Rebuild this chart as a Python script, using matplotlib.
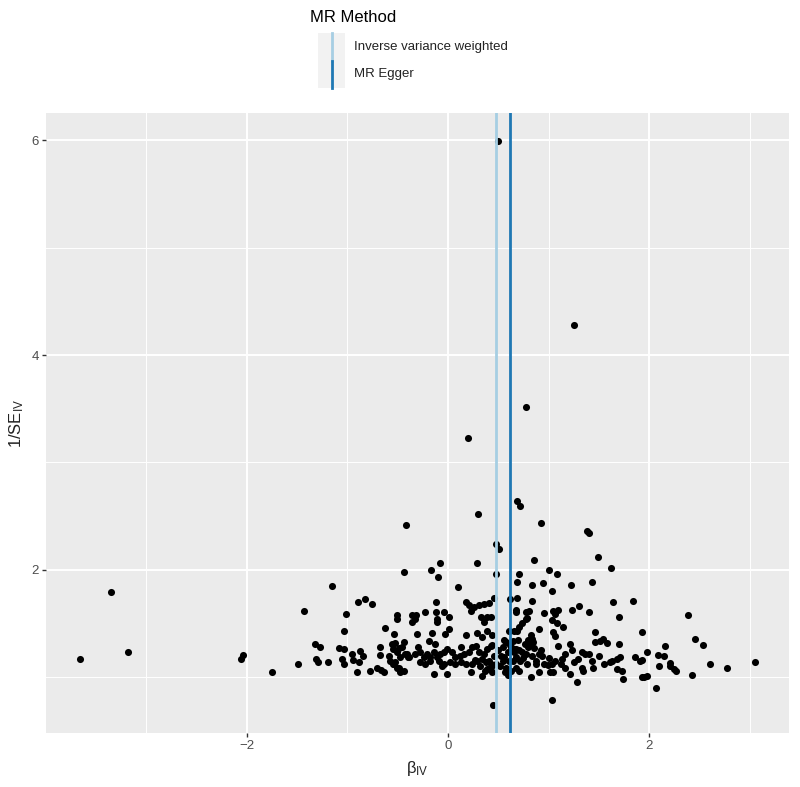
import numpy as np
import matplotlib
matplotlib.use('Agg')
import matplotlib.pyplot as plt
from matplotlib.lines import Line2D
from matplotlib.patches import Rectangle

plt.rcParams['font.family'] = ['Liberation Sans', 'DejaVu Sans']
plt.rcParams['mathtext.fontset'] = 'custom'
plt.rcParams['mathtext.rm'] = 'Liberation Sans'
plt.rcParams['mathtext.it'] = 'Liberation Sans'

# estimates of the IVW and Egger slopes
ivw_beta = 0.48
egger_beta = 0.62
methods = ['Inverse variance weighted', 'MR Egger']
method_colors = ['#a6cee3', '#1f78b4']

# per-SNP ratio estimates (beta_IV) and precision (1/SE_IV)
outer_beta = [0.50, 1.25, 0.78, 0.195, 0.30, -0.42, 0.93, 1.38, 1.40, 0.69, 0.72,
              0.48, 0.51, 1.49, 1.62, 0.86, 0.29, -0.075, -0.165, -0.44, -0.10,
              0.48, 0.69, 0.71, 0.10, 0.46, 0.62, 0.69, -0.12, 0.175, 0.21, 0.26,
              0.31, 0.36, 0.41, -0.23, -0.12, -0.035, 0.225, 0.68, -0.51, -0.36,
              -0.32, 0.01, 0.33, 0.39, 0.43, -0.11]
outer_inv_se = [5.99, 4.28, 3.52, 3.23, 2.52, 2.42, 2.44, 2.36, 2.34, 2.64, 2.59,
                2.24, 2.19, 2.12, 2.02, 2.09, 2.06, 2.06, 2.00, 1.98, 1.93,
                1.96, 1.89, 1.96, 1.84, 1.74, 1.73, 1.74, 1.70, 1.70, 1.67, 1.65,
                1.67, 1.68, 1.69, 1.61, 1.61, 1.61, 1.62, 1.63, 1.58, 1.58,
                1.58, 1.565, 1.565, 1.565, 1.565, 1.54]

left_beta = [-3.66, -3.35, -3.18, -2.04, -2.06, -1.155, -1.435, -1.01, -0.89, -0.82,
             -0.75, -0.51, -1.03, -0.63, -0.54, -1.32, -1.27, -1.08, -1.03, -1.31,
             -1.29, -1.19, -1.49, -1.75, -1.05, -1.035, -0.95, -0.94, -0.87, -0.84,
             -0.88, -0.90, -0.77, -0.68, -0.68, -0.59, -0.58, -0.55, -0.53, -0.71,
             -0.67, -0.64, -0.53, -0.49, -0.49]
left_inv_se = [1.17, 1.79, 1.235, 1.21, 1.17, 1.845, 1.615, 1.585, 1.70, 1.73,
               1.68, 1.54, 1.43, 1.46, 1.40, 1.31, 1.28, 1.27, 1.26, 1.17,
               1.14, 1.14, 1.12, 1.05, 1.17, 1.12, 1.22, 1.16, 1.24, 1.20,
               1.14, 1.05, 1.06, 1.285, 1.21, 1.20, 1.155, 1.12, 1.14, 1.09,
               1.07, 1.05, 1.32, 1.27, 1.09]

mid_beta = [-0.36, -0.33, -0.11, 0.36, 0.61, -0.31, -0.16, -0.025, 0.01, 0.175,
            0.29, 0.34, 0.39, 0.44, -0.19, -0.125, -0.44, -0.46, -0.56, -0.41,
            -0.39, -0.543, -0.51, -0.476, -0.426, -0.393, -0.326, -0.276, -0.242,
            -0.209, -0.175, -0.142, -0.109, -0.075, -0.042, -0.008, 0.042, 0.075,
            0.125, 0.159, 0.209, 0.242, 0.276, 0.309, 0.359, 0.392, 0.426, 0.342,
            0.376, 0.409, 0.426, 0.543, 0.576, 0.593, 0.643, 0.66, 0.56, 0.676,
            -0.276, -0.226, -0.175, -0.092, -0.042, 0.025, 0.075, 0.125, 0.175,
            0.242, 0.292, -0.54, -0.51, -0.476, -0.44, -0.14, -0.01, 0.225, 0.34,
            0.39, 0.43, 0.44, 0.45, 0.61, 0.63, 0.58,
            0.50, 0.53, 0.55, 0.52, 0.57, 0.46, 0.44, 0.62, 0.65, 0.56, 0.60, 0.48,
            0.32, 0.37, 0.27, 0.12, -0.06, -0.30]
mid_inv_se = [1.51, 1.54, 1.51, 1.51, 1.43, 1.40, 1.41, 1.40, 1.45, 1.39,
              1.41, 1.37, 1.43, 1.39, 1.34, 1.31, 1.325, 1.28, 1.31, 1.22,
              1.185, 1.264, 1.232, 1.185, 1.217, 1.185, 1.217, 1.232, 1.185,
              1.217, 1.185, 1.232, 1.185, 1.217, 1.232, 1.264, 1.232, 1.185,
              1.279, 1.217, 1.232, 1.279, 1.295, 1.232, 1.217, 1.264, 1.295, 1.17,
              1.139, 1.155, 1.092, 1.279, 1.325, 1.232, 1.341, 1.264, 1.185, 1.185,
              1.139, 1.124, 1.155, 1.155, 1.124, 1.139, 1.124, 1.139, 1.124,
              1.124, 1.155, 1.12, 1.09, 1.045, 1.06, 1.03, 1.03, 1.045, 1.015,
              1.08, 1.125, 1.045, 0.745, 1.155, 1.06, 1.09,
              1.25, 1.20, 1.15, 1.10, 1.05, 1.20, 1.30, 1.30, 1.15, 1.35, 1.02, 1.12,
              1.10, 1.06, 1.16, 1.20, 1.10, 1.28]

right_beta = [1.0, 1.08, 0.84, 0.95, 1.22, 1.43, 1.035, 0.84, 0.81, 0.96,
              1.09, 1.235, 1.30, 1.405, 1.64, 1.84, 1.70, 0.79, 0.68, 0.78,
              1.06, 1.04, 0.78, 0.74, 0.71, 0.66, 0.69, 1.03, 1.08, 1.145,
              0.91, 1.045, 1.06, 1.46, 1.93, 0.83, 0.84, 0.85, 0.80, 0.77,
              0.80, 0.83, 1.46, 1.51, 1.545, 1.58, 1.70, 0.63, 0.68, 0.71,
              0.74, 0.78, 0.66, 0.93, 0.91, 0.84, 0.88, 0.94, 1.095, 1.16,
              1.21, 1.23, 1.13, 1.06, 1.03, 0.995, 1.33, 1.36, 1.50, 1.295,
              1.43, 1.445, 1.63, 1.68, 1.71, 1.61, 1.86, 1.91, 1.98, 0.68,
              0.71, 0.79, 0.88, 0.96, 0.91, 1.01, 1.045, 0.83, 1.16, 1.21,
              1.33, 1.345, 1.28, 1.68, 1.73, 1.745, 1.93, 1.98, 1.035,
              2.39, 2.46, 2.54, 2.16, 2.09, 2.15, 1.93, 2.10, 2.21, 2.21,
              2.25, 2.27, 2.61, 2.775, 3.055, 2.43, 1.95, 2.07,
              0.72, 0.75, 0.70, 0.86, 1.00, 1.12, 1.25, 1.40, 1.55]
right_inv_se = [2.00, 1.96, 1.86, 1.875, 1.86, 1.89, 1.80, 1.71, 1.62, 1.60,
                1.63, 1.63, 1.66, 1.605, 1.70, 1.71, 1.565, 1.55, 1.605, 1.605,
                1.59, 1.62, 1.54, 1.50, 1.465, 1.43, 1.43, 1.53, 1.50, 1.465,
                1.45, 1.42, 1.38, 1.425, 1.42, 1.39, 1.36, 1.33, 1.35, 1.31,
                1.28, 1.30, 1.325, 1.34, 1.36, 1.32, 1.31, 1.28, 1.26, 1.25,
                1.23, 1.22, 1.23, 1.25, 1.22, 1.20, 1.155, 1.20, 1.295, 1.22,
                1.31, 1.25, 1.17, 1.155, 1.125, 1.11, 1.23, 1.22, 1.20, 1.17,
                1.155, 1.09, 1.155, 1.17, 1.185, 1.14, 1.185, 1.155, 1.23, 1.09,
                1.06, 1.125, 1.125, 1.125, 1.045, 1.045, 1.045, 1.0, 1.09, 1.03,
                1.09, 1.06, 0.955, 1.08, 1.06, 0.985, 1.0, 1.015, 0.79,
                1.58, 1.36, 1.30, 1.295, 1.21, 1.195, 1.16, 1.10, 1.13, 1.10,
                1.08, 1.055, 1.12, 1.09, 1.14, 1.02, 1.005, 0.90,
                1.15, 1.18, 1.35, 1.27, 1.18, 1.12, 1.14, 1.22, 1.12]

beta = np.array(outer_beta + left_beta + mid_beta + right_beta)
inv_se = np.array(outer_inv_se + left_inv_se + mid_inv_se + right_inv_se)

fig = plt.figure(figsize=(8, 7.87), dpi=100)
ax = fig.add_axes([46 / 800, 0.069, 743 / 800, 0.787])
ax.set_facecolor('#ebebeb')

ax.scatter(beta, inv_se, s=26, color='black', linewidths=0, zorder=3)
ax.axvline(ivw_beta, color=method_colors[0], lw=2.0, zorder=4)
ax.axvline(egger_beta, color=method_colors[1], lw=2.0, zorder=4)

xpad = 0.05 * (beta.max() - beta.min())
ypad = 0.05 * (inv_se.max() - inv_se.min())
ax.set_xlim(beta.min() - xpad, beta.max() + xpad)
ax.set_ylim(inv_se.min() - ypad, inv_se.max() + ypad)

ax.set_xticks([-2, 0, 2])
ax.set_xticks([-3, -1, 1, 3], minor=True)
ax.set_yticks([2, 4, 6])
ax.set_yticks([1, 3, 5], minor=True)
ax.grid(which='major', color='white', lw=1.4, zorder=0)
ax.grid(which='minor', color='white', lw=0.7, zorder=0)
ax.set_axisbelow(True)
for s in ax.spines.values():
    s.set_visible(False)
ax.tick_params(which='major', length=3, width=1, color='#333333',
               labelcolor='#4d4d4d', labelsize=9.5, pad=2)
ax.tick_params(which='minor', length=0)

ax.set_xlabel(r'$\beta_{\mathrm{IV}}$', fontsize=12, color='#222222', labelpad=5)
ax.set_ylabel(r'$1/\mathrm{SE}_{\mathrm{IV}}$', fontsize=12, color='#222222', labelpad=4)

# legend on top (ggplot style, vertical key lines)
fig.text(310 / 800, 1 - 17 / 787, 'MR Method', fontsize=12, va='center', ha='left')
fig.patches.append(Rectangle((318 / 800, 1 - 88 / 787), 27 / 800, 55 / 787,
                             transform=fig.transFigure, facecolor='#f2f2f2',
                             edgecolor='none'))
for i, (m, c) in enumerate(zip(methods, method_colors)):
    y0 = 1 - (33 + 27.5 * i) / 787
    y1 = 1 - (33 + 27.5 * (i + 1)) / 787
    fig.lines.append(Line2D([331.5 / 800, 331.5 / 800], [y1, y0],
                            transform=fig.transFigure, color=c, lw=2.0))
    fig.text(354 / 800, (y0 + y1) / 2, m, fontsize=9.5, va='center', ha='left',
             color='#222222')

fig.savefig('out.png', dpi=100)
